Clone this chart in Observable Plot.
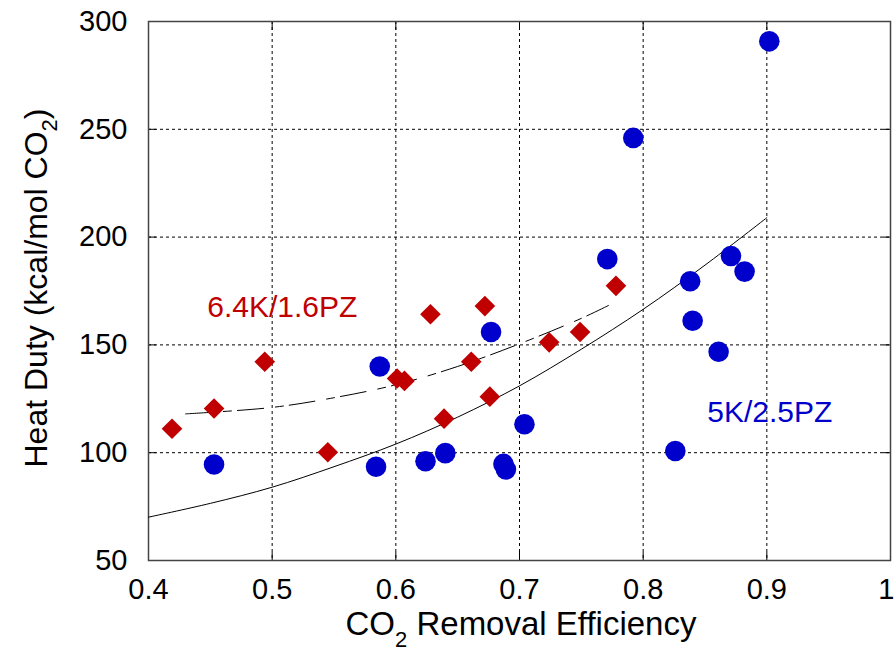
<!DOCTYPE html>
<html><head><meta charset="utf-8">
<script src="https://cdn.jsdelivr.net/npm/d3@7"></script>
<script src="https://cdn.jsdelivr.net/npm/@observablehq/plot@0.6"></script>
<style>body{margin:0;background:#fff} svg{display:block}</style>
</head><body><div id="chart"></div>
<script>
// 5K/2.5PZ (blue circles)
const blueX = [0.453, 0.587, 0.584, 0.624, 0.640, 0.677, 0.687, 0.689, 0.704, 0.771, 0.792, 0.826, 0.838, 0.840, 0.861, 0.871, 0.882, 0.902];
const blueY = [94.5, 140.0, 93.5, 96.0, 99.8, 156.0, 94.8, 92.2, 113.2, 189.8, 246.0, 100.8, 179.5, 161.2, 146.8, 191.2, 184.0, 290.8];
// 6.4K/1.6PZ (red diamonds)
const redX = [0.419, 0.453, 0.494, 0.545, 0.601, 0.607, 0.628, 0.639, 0.661, 0.672, 0.676, 0.724, 0.749, 0.778];
const redY = [111.1, 120.5, 142.2, 100.2, 134.4, 133.3, 164.2, 115.8, 142.2, 168.0, 126.0, 151.2, 156.0, 177.4];
// fitted curves
const fitBlueX = [0.40, 0.45, 0.50, 0.55, 0.60, 0.65, 0.70, 0.75, 0.80, 0.85, 0.90];
const fitBlueY = [70.1, 76.5, 84.0, 93.5, 104.0, 116.5, 131.0, 148.0, 166.5, 187.0, 209.0];
const fitRedX = [0.43, 0.50, 0.55, 0.60, 0.65, 0.70, 0.75, 0.772];
const fitRedY = [118.0, 121.0, 125.5, 131.5, 140.0, 150.5, 162.3, 168.3];
// axes
const xTicks = [0.4, 0.5, 0.6, 0.7, 0.8, 0.9, 1.0];
const xTickLabels = ["0.4", "0.5", "0.6", "0.7", "0.8", "0.9", "1"];
const yTicks = [50, 100, 150, 200, 250, 300];
const yTickLabels = ["50", "100", "150", "200", "250", "300"];
// annotations
const labelText = ["6.4K/1.6PZ", "5K/2.5PZ"];
const labelX = [0.4475, 0.8518];
const labelY = [167.5, 118.8];
const labelColor = ["#c00000", "#0000cc"];

const blue = blueX.map((x, i) => ({x, y: blueY[i]}));
const red = redX.map((x, i) => ({x, y: redY[i]}));
const fitBlue = fitBlueX.map((x, i) => ({x, y: fitBlueY[i]}));
const fitRed = fitRedX.map((x, i) => ({x, y: fitRedY[i]}));
const labels = labelText.map((t, i) => ({t, x: labelX[i], y: labelY[i], c: labelColor[i]}));

const font = "'Liberation Sans', Arial, Helvetica, sans-serif";
const grid = {stroke: "black", strokeOpacity: 1, strokeWidth: 1, strokeDasharray: "3,3"};
const lastTick = xTicks.length - 1;

const chart = Plot.plot({
  width: 894, height: 655,
  marginLeft: 148, marginRight: 4, marginTop: 21, marginBottom: 95,
  style: {fontFamily: font, fontSize: "29px", background: "white", color: "black"},
  x: {domain: [0.4, 1.0]},
  y: {domain: [50, 300]},
  marks: [
    Plot.gridX(xTicks, grid),
    Plot.gridY(yTicks, grid),
    Plot.axisX(xTicks.slice(0, lastTick), {anchor: "bottom", tickSize: 0, tickPadding: 18, tickFormat: (d) => xTickLabels[xTicks.indexOf(d)], label: null, fontSize: 29, fill: "black"}),
    Plot.axisX(xTicks.slice(lastTick), {anchor: "bottom", tickSize: 0, tickPadding: 18, tickFormat: (d) => xTickLabels[xTicks.indexOf(d)], label: null, fontSize: 29, fill: "black", textAnchor: "end", dx: 4}),
    Plot.axisY(yTicks, {anchor: "left", tickSize: 0, tickPadding: 21, tickFormat: (d) => yTickLabels[yTicks.indexOf(d)], label: null, fontSize: 29, fill: "black"}),
    Plot.axisX(xTicks, {anchor: "bottom", tickSize: -8, tickFormat: () => "", label: null, stroke: "black"}),
    Plot.axisX(xTicks, {anchor: "top", tickSize: -8, tickFormat: () => "", label: null, stroke: "black"}),
    Plot.axisY(yTicks, {anchor: "left", tickSize: -8, tickFormat: () => "", label: null, stroke: "black"}),
    Plot.axisY(yTicks, {anchor: "right", tickSize: -8, tickFormat: () => "", label: null, stroke: "black"}),
    Plot.frame({stroke: "#444", strokeWidth: 1.5}),
    Plot.line(fitBlue, {x: "x", y: "y", stroke: "black", strokeWidth: 1, curve: "catmull-rom"}),
    Plot.line(fitRed, {x: "x", y: "y", stroke: "black", strokeWidth: 1, strokeDasharray: "26,12,8,6", curve: "catmull-rom"}),
    Plot.dot(blue, {x: "x", y: "y", r: 10.3, fill: "#0000cc", stroke: "none", symbol: "circle"}),
    Plot.dot(red, {x: "x", y: "y", r: 9.3, fill: "#c00000", stroke: "none", symbol: "diamond2"}),
    Plot.text(labels, {x: "x", y: "y", text: "t", fill: "c", textAnchor: "start", lineAnchor: "middle", fontSize: 30, fontFamily: font})
  ]
});

const svg = d3.select(chart);
// x axis title with subscript
const xt = svg.append("text")
  .attr("x", 521).attr("y", 635)
  .attr("text-anchor", "middle")
  .attr("font-family", font).attr("font-size", 33).attr("fill", "black");
xt.append("tspan").text("CO");
xt.append("tspan").attr("font-size", 22).attr("dy", 12).text("2");
xt.append("tspan").attr("dy", -12).text(" Removal Efficiency");
// y axis title with subscript
const yt = svg.append("text")
  .attr("transform", "translate(47,288) rotate(-90)")
  .attr("text-anchor", "middle")
  .attr("font-family", font).attr("font-size", 32).attr("fill", "black");
yt.append("tspan").text("Heat Duty (kcal/mol CO");
yt.append("tspan").attr("font-size", 22).attr("dy", 10).text("2");
yt.append("tspan").attr("dy", -10).text(")");

document.getElementById("chart").appendChild(chart);
</script>
</body></html>
